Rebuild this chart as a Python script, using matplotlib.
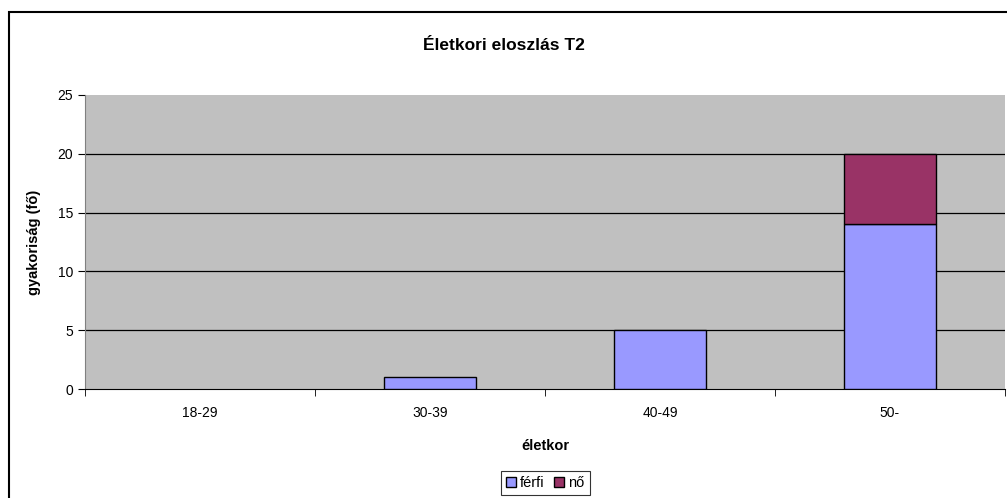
import matplotlib.pyplot as plt
from matplotlib.patches import Rectangle
import numpy as np

categories = ["18-29", "30-39", "40-49", "50-"]
ferfi = [0, 1, 5, 14]
no = [0, 0, 0, 6]
yticks = [0, 5, 10, 15, 20, 25]

plt.rcParams["font.family"] = ["Liberation Sans", "DejaVu Sans"]

fig = plt.figure(figsize=(10.07, 4.98), dpi=100)
fig.patches.append(Rectangle((9 / 1007, -0.1), 1.2, (498 - 12) / 498 + 0.1,
                             transform=fig.transFigure, fill=False,
                             edgecolor="black", linewidth=1.5))

ax = fig.add_axes([85 / 1007, (498 - 389) / 498, 920 / 1007, 294 / 498])
ax.set_facecolor("#C0C0C0")

x = np.arange(len(categories))
# no outline on empty segments
edge_f = ["black" if v > 0 else "none" for v in ferfi]
edge_n = ["black" if v > 0 else "none" for v in no]
ax.bar(x, ferfi, width=0.4, color="#9999FF", edgecolor=edge_f, linewidth=1, zorder=3)
ax.bar(x, no, width=0.4, bottom=ferfi, color="#993366", edgecolor=edge_n, linewidth=1, zorder=3)

ax.set_xlim(-0.5, len(categories) - 0.5)
ax.set_ylim(0, 25)
ax.set_yticks(yticks)
for y in yticks[1:-1]:
    ax.axhline(y, color="black", linewidth=0.9, zorder=1)

ax.set_xticks(x)
ax.set_xticklabels(categories, fontsize=10)
ax.tick_params(axis="x", length=0, pad=12)
ax.set_xticks(np.arange(len(categories) + 1) - 0.5, minor=True)
ax.tick_params(axis="x", which="minor", length=5, direction="out")
ax.tick_params(axis="y", length=5, direction="out", labelsize=10)

for side in ["top", "right"]:
    ax.spines[side].set_visible(False)
ax.spines["left"].set_color("#808080")
ax.spines["bottom"].set_color("black")

ax.set_xlabel("életkor", fontsize=10.5, fontweight="bold", labelpad=14)
ax.set_ylabel("gyakoriság (fő)", fontsize=10.5, fontweight="bold", labelpad=12)
fig.text(0.5, 1 - 45 / 498, "Életkori eloszlás T2", ha="center", va="center",
         fontsize=12.5, fontweight="bold")

handles = [Rectangle((0, 0), 1, 1, facecolor="#9999FF", edgecolor="black", linewidth=1),
           Rectangle((0, 0), 1, 1, facecolor="#993366", edgecolor="black", linewidth=1)]
leg = fig.legend(handles, ["férfi", "nő"], loc="upper center",
                 bbox_to_anchor=(545 / 1007, 1 - 471 / 498), ncol=2,
                 fontsize=10.5, frameon=True, fancybox=False, handlelength=0.7,
                 handleheight=0.7, handletextpad=0.3, columnspacing=0.6,
                 borderpad=0.35, borderaxespad=0)
leg.get_frame().set_edgecolor("black")
leg.get_frame().set_linewidth(0.8)

fig.savefig("out.png", dpi=100)
